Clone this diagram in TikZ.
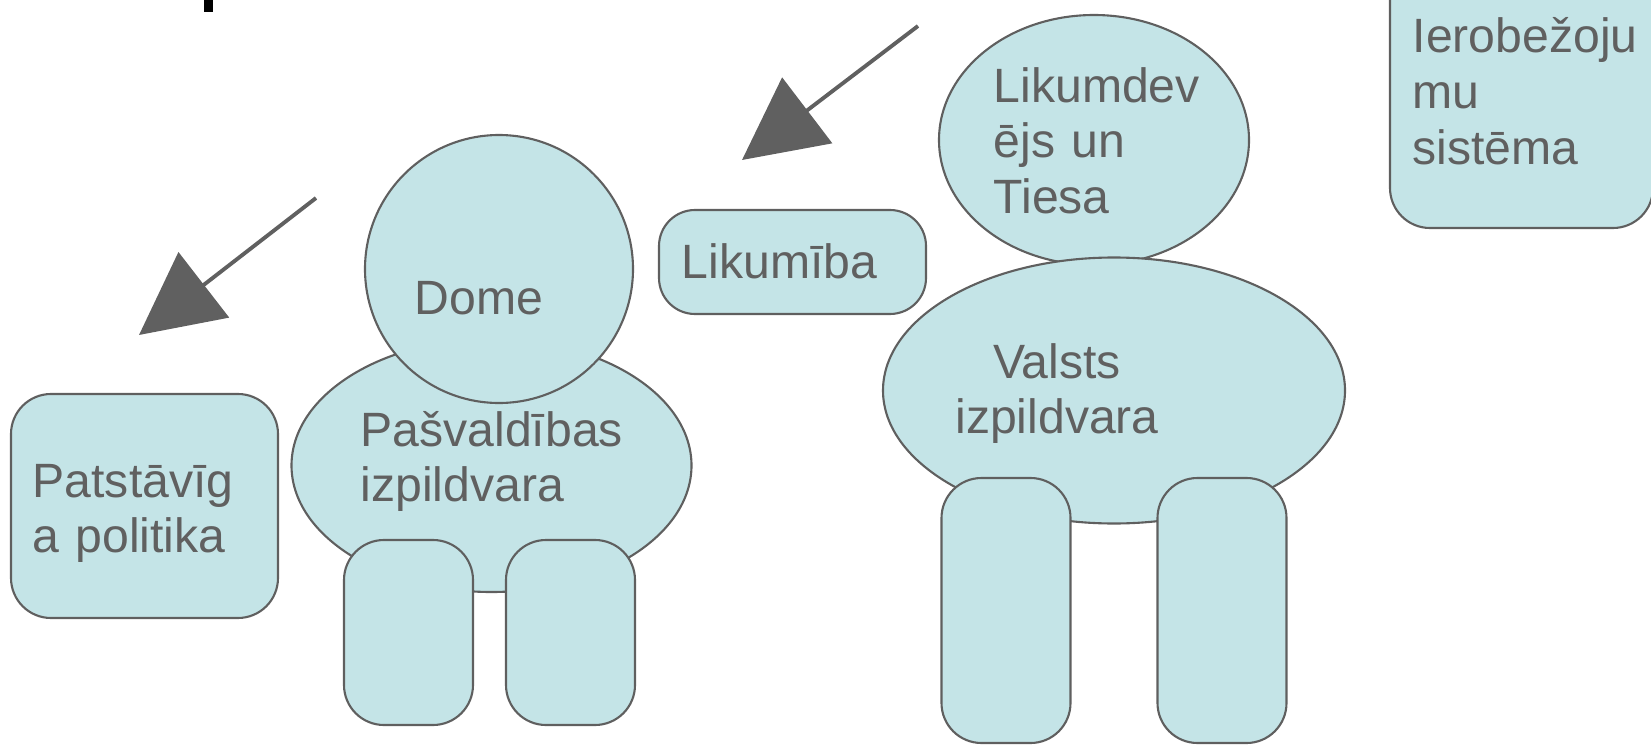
\documentclass[tikz,border=0pt]{standalone}
\usepackage{fontspec}
\setmainfont{Liberation Sans}
\usetikzlibrary{shapes.geometric,arrows.meta}
\definecolor{bodyfill}{HTML}{C4E4E7}
\definecolor{edgegray}{HTML}{5F5F5F}
\definecolor{textgray}{HTML}{606060}
\begin{document}
\begin{tikzpicture}
[blob/.style={ellipse,draw=edgegray,fill=bodyfill,line width=.6pt,inner sep=0pt},
 box/.style={rectangle,rounded corners=.4cm,draw=edgegray,fill=bodyfill,line width=.6pt,inner sep=0pt},
 txt/.style={anchor=base west,inner sep=0pt,text=textgray,text width=#1,align=left,font=\fontsize{13.7pt}{15.8pt}\selectfont},
 txt/.default=3cm,
 pointer/.style={draw=textgray,line width=1.1pt,-{Triangle[length=.82cm,width=.82cm]}}]
\useasboundingbox (0,0) rectangle (16.51,7.44);
\fill (2.04,7.32) rectangle (2.13,7.44);
\node[box,minimum width=2.67cm,minimum height=2.24cm] (pol) at (1.445,2.38) {};
\node[blob,minimum width=4cm,minimum height=2.53cm] (pbody) at (4.915,2.785) {};
\node[blob,circle,minimum size=2.68cm] (dome) at (4.99,4.75) {};
\node[box,minimum width=2.67cm,minimum height=1.04cm,rounded corners=.36cm] (lik) at (7.925,4.82) {};
\node[blob,minimum width=3.1cm,minimum height=2.5cm] (tiesa) at (10.94,6.04) {};
\node[blob,minimum width=4.62cm,minimum height=2.66cm] (vbody) at (11.14,3.535) {};
\node[box,minimum width=2.63cm,minimum height=2.74cm] (ier) at (15.215,6.53) {};
\foreach \nm/\x/\y/\h in {pl/4.085/1.115/1.85,pr/5.705/1.115/1.85,vl/10.06/1.335/2.65,vr/12.22/1.335/2.65}
\node[box,minimum width=1.29cm,minimum height=\h cm] (\nm) at (\x,\y) {};
\node[txt] (tpol) at (0.32,2.47) {Patstāvīg\\a politika};
\node[txt] (tdome) at (4.14,4.30) {Dome};
\node[txt] (tpbody) at (3.60,2.98) {Pašvaldības\\izpildvara};
\node[txt] (tlik) at (6.81,4.66) {Likumība};
\node[txt] (ttiesa) at (9.93,6.42) {Likumdev\\ējs un\\Tiesa};
\node[txt=2.4cm,align=center,anchor=base] (tvbody) at (10.57,3.66) {Valsts\\izpildvara};
\node[txt] (tier) at (14.12,6.91) {Ierobežoju\\mu\\sistēma};
\coordinate (a1) at (3.16,5.46);
\coordinate (b1) at (1.39,4.09);
\coordinate (a2) at (9.18,7.18);
\coordinate (b2) at (7.42,5.84);
\draw[pointer] (a1) -- (b1);
\draw[pointer] (a2) -- (b2);
\end{tikzpicture}
\end{document}
